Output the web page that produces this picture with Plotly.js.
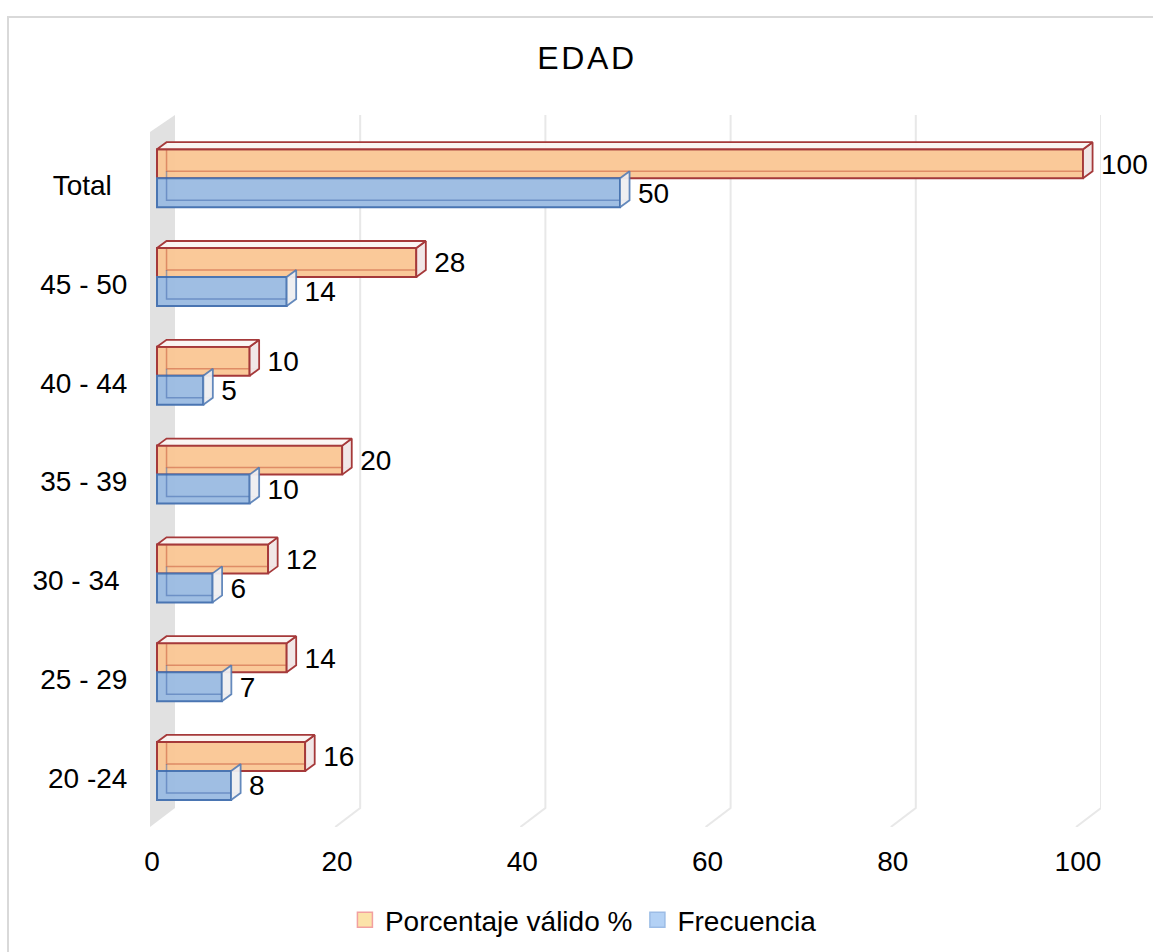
<!DOCTYPE html>
<html>
<head>
<meta charset="utf-8">
<script src="https://cdn.plot.ly/plotly-3.0.1.min.js"></script>
<style>
  html, body { margin: 0; padding: 0; background: #fff; }
  #wrap { position: relative; width: 1153px; height: 952px; overflow: hidden; }
  #chart { width: 1153px; height: 952px; }
  #frame { position: absolute; left: 7px; top: 16px; width: 1200px; height: 1000px;
           border: 2px solid #D9D9D9; pointer-events: none; box-sizing: border-box; }
</style>
</head>
<body>
<div id="wrap">
  <div id="chart"></div>
  <div id="frame"></div>
</div>
<script>
// ---- data (bottom to top, as drawn) ----
const categories = ["20 -24", "25 - 29", "30 - 34", "35 - 39", "40 - 44", "45 - 50", "Total"];
const categoryLabels = ["20 -24", "25 - 29", "30 - 34\u00A0", "35 - 39", "40 - 44", "45 - 50", "Total\u00A0\u00A0"];
const porcentaje = [16, 14, 12, 20, 10, 28, 100];
const frecuencia = [8, 7, 6, 10, 5, 14, 50];
const xTicks = [0, 20, 40, 60, 80, 100];
const seriesNames = ["Porcentaje válido %", "Frecuencia"];

// ---- style constants ----
const FONT = "Liberation Sans, Arial, sans-serif";
const FS = 28;
const BW = 0.2935;        // bar thickness (category units)
const DX = 1.03;          // 3D depth, x (value units)
const DY = 0.071;         // 3D depth, y (category units)
const LABEL_GAP = 1.94;   // data label distance from front face
const LABEL_DROP = 0.03;  // data label vertical nudge
const BACK = 1.94;        // back wall offset (value units)
const FRONT = -0.756;     // front plane offset
const YBACK_BOT = -0.374, YFRONT_BOT = -0.567, YTOP = 6.64, YWALL_TOP = 6.468;

const OR_FILL = "rgba(250,199,150,0.97)", OR_LINE = "#A5393A";
const BL_FILL = "rgba(156,188,226,0.97)", BL_LINE = "#4A75B2";

const idx = categories.map((c, i) => i);
const traces = [];

// back edges (seen through translucent front faces)
function backEdges(vals, yBase, color) {
  vals.forEach((v, i) => {
    const y0 = idx[i] + yBase + DY, y1 = y0 + BW;
    traces.push({type: "scatter", mode: "lines", hoverinfo: "skip", showlegend: false,
      x: [DX, DX, v + DX], y: [y1, y0, y0],
      line: {color: color, width: 1.5}});
  });
}
backEdges(porcentaje, 0, "rgba(200,90,60,0.55)");
backEdges(frecuencia, -BW, "rgba(60,100,170,0.5)");

// side faces
function sideFaces(vals, yBase, fill, line) {
  vals.forEach((v, i) => {
    const y0 = idx[i] + yBase, y1 = y0 + BW;
    traces.push({type: "scatter", mode: "lines", fill: "toself", fillcolor: fill,
      hoverinfo: "skip", showlegend: false,
      x: [v, v, v + DX, v + DX, v], y: [y0, y1, y1 + DY, y0 + DY, y0],
      line: {color: line, width: 1.8}});
  });
}
sideFaces(frecuencia, -BW, "rgba(238,238,240,0.95)", "rgba(74,117,178,0.85)");
sideFaces(porcentaje, 0, "rgba(240,230,230,0.95)", OR_LINE);

// top faces (orange only visible)
porcentaje.forEach((v, i) => {
  const y1 = idx[i] + BW;
  traces.push({type: "scatter", mode: "lines", fill: "toself", fillcolor: "rgba(250,244,242,0.95)",
    hoverinfo: "skip", showlegend: false,
    x: [0, v, v + DX, DX, 0], y: [y1, y1, y1 + DY, y1 + DY, y1],
    line: {color: OR_LINE, width: 1.8}});
});

// front faces (real bars)
traces.push({type: "bar", orientation: "h", name: seriesNames[0], showlegend: false,
  x: porcentaje, y: idx, offset: 0, width: BW,
  marker: {color: OR_FILL, line: {color: OR_LINE, width: 2}}});
traces.push({type: "bar", orientation: "h", name: seriesNames[1], showlegend: false,
  x: frecuencia, y: idx, offset: -BW, width: BW,
  marker: {color: BL_FILL, line: {color: BL_LINE, width: 2}}});

// data labels
traces.push({type: "scatter", mode: "text", showlegend: false, hoverinfo: "skip", cliponaxis: false,
  x: porcentaje.map(v => v + LABEL_GAP), y: idx.map(i => i + BW / 2 - LABEL_DROP),
  text: porcentaje.map(String), textposition: "middle right",
  textfont: {family: FONT, size: FS, color: "#000"}});
traces.push({type: "scatter", mode: "text", showlegend: false, hoverinfo: "skip", cliponaxis: false,
  x: frecuencia.map(v => v + LABEL_GAP), y: idx.map(i => i - BW / 2 - LABEL_DROP),
  text: frecuencia.map(String), textposition: "middle right",
  textfont: {family: FONT, size: FS, color: "#000"}});

// legend entries
traces.push({type: "scatter", mode: "markers", name: seriesNames[0], x: [null], y: [null],
  marker: {symbol: "square", size: 15, color: "#FCE3A9", line: {color: "#F2A0A0", width: 1.5}}});
traces.push({type: "scatter", mode: "markers", name: seriesNames[1], x: [null], y: [null],
  marker: {symbol: "square", size: 15, color: "#B3D1F5", line: {color: "#9CBCE6", width: 1.5}}});

// gridlines (3D) and wall as shapes
const shapes = [];
shapes.push({type: "path", xref: "x", yref: "y", layer: "below",
  path: `M${FRONT},${YFRONT_BOT} L${BACK},${YBACK_BOT} L${BACK},${YTOP} L${FRONT},${YWALL_TOP} Z`,
  fillcolor: "#E1E1E1", line: {width: 0}});
xTicks.filter(v => v > 0).forEach(v => {
  shapes.push({type: "path", xref: "x", yref: "y", layer: "below",
    path: `M${v + FRONT},${YFRONT_BOT} L${v + BACK},${YBACK_BOT} L${v + BACK},${YTOP}`,
    line: {color: "#E8E8E8", width: 2}});
});

const layout = {
  width: 1153, height: 952,
  margin: {l: 150, r: 52, t: 115, b: 125, pad: 0},
  paper_bgcolor: "#fff", plot_bgcolor: "rgba(0,0,0,0)",
  font: {family: FONT, size: FS, color: "#000"},
  title: {text: "E\u200AD\u200AA\u200AD", font: {family: FONT, size: 32, color: "#000"},
    xref: "container", yref: "container", x: 0.508, xanchor: "center", y: 1 - 58 / 952, yanchor: "middle"},
  xaxis: {range: [FRONT, 101.94], showgrid: false, zeroline: false, showline: false,
    tickmode: "array", tickvals: xTicks.map(v => v - 0.55), ticktext: xTicks.map(String),
    ticks: "outside", ticklen: 9, tickcolor: "rgba(0,0,0,0)",
    tickfont: {family: FONT, size: FS, color: "#000"}, fixedrange: true},
  yaxis: {range: [YFRONT_BOT, YTOP], showgrid: false, zeroline: false, showline: false,
    tickmode: "array", tickvals: idx.map(i => i - 0.07), ticktext: categoryLabels,
    ticks: "outside", ticklen: 16, tickcolor: "rgba(0,0,0,0)",
    tickfont: {family: FONT, size: FS, color: "#000"}, fixedrange: true},
  shapes: shapes,
  showlegend: true,
  legend: {orientation: "h", xref: "container", yref: "container", x: 0.506, xanchor: "center",
    y: 1 - 920 / 952, yanchor: "middle", font: {family: FONT, size: FS, color: "#000"},
    itemwidth: 30, tracegroupgap: 0, bgcolor: "rgba(0,0,0,0)"},
  bargap: 0, barmode: "overlay"
};

Plotly.newPlot("chart", traces, layout, {displayModeBar: false, staticPlot: true});
</script>
</body>
</html>
